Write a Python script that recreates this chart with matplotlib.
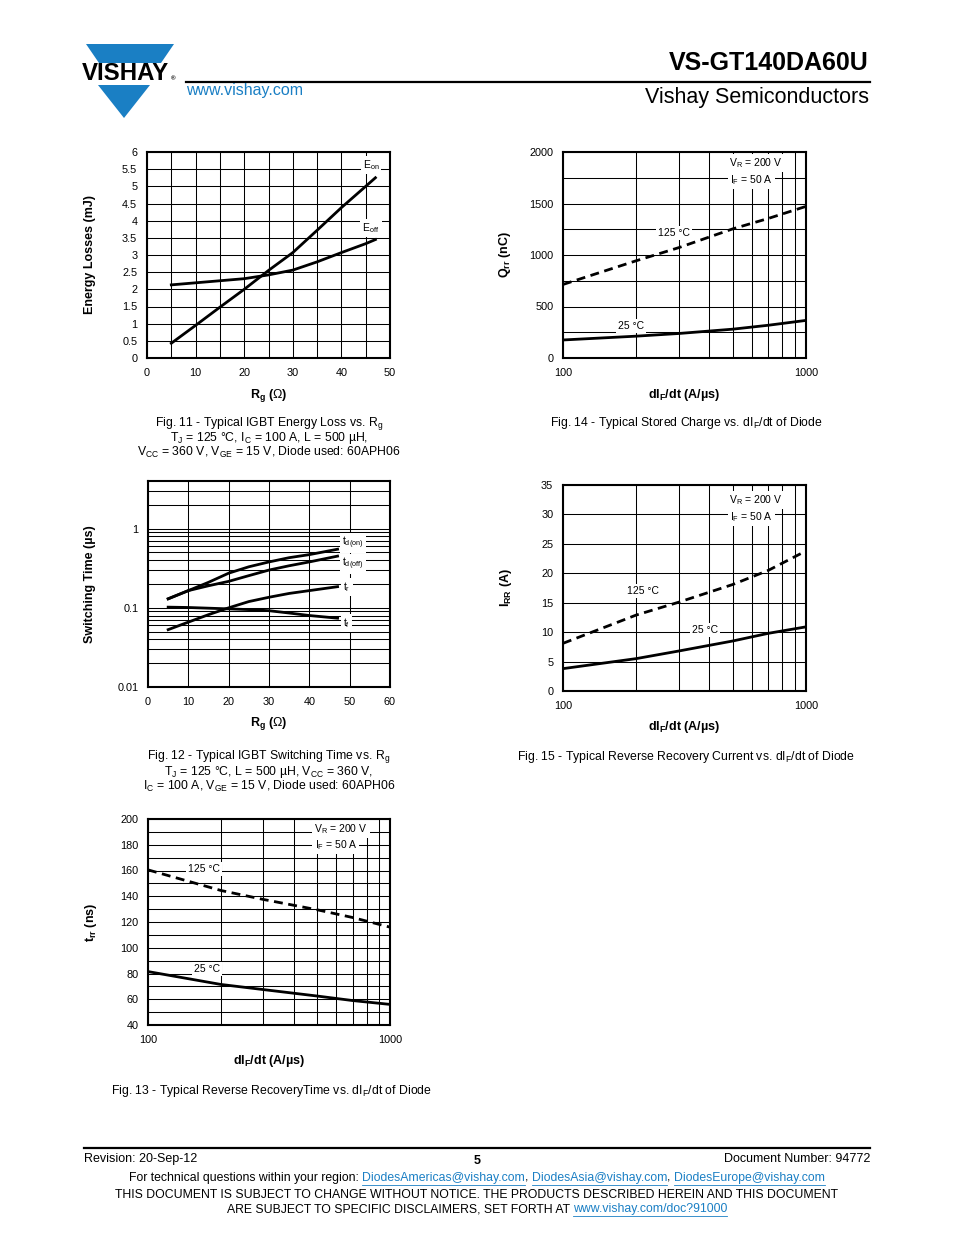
import matplotlib
matplotlib.use("Agg")
import matplotlib.pyplot as plt
from matplotlib.patches import Polygon
from matplotlib.lines import Line2D
from matplotlib.ticker import FixedLocator, NullFormatter

plt.rcParams['font.family'] = ['Liberation Sans', 'DejaVu Sans']
plt.rcParams['mathtext.fontset'] = 'custom'
plt.rcParams['mathtext.rm'] = 'Liberation Sans'
plt.rcParams['mathtext.it'] = 'Liberation Sans:italic'
plt.rcParams['mathtext.bf'] = 'Liberation Sans:bold'

W, H = 954, 1235
BLUE = '#1a7fc4'

# ---------------- data ----------------
# Fig 11 energy loss vs Rg
rg11 = [5, 10, 15, 20, 25, 30, 35, 40, 45, 47]
e_on = [0.43, 0.95, 1.48, 2.0, 2.55, 3.07, 3.72, 4.38, 5.0, 5.25]
e_off = [2.13, 2.19, 2.25, 2.31, 2.42, 2.56, 2.8, 3.07, 3.33, 3.45]

# Fig 12 switching time vs Rg
rg12 = [5, 10, 15, 20, 25, 30, 35, 40, 47]
t_don = [0.13, 0.165, 0.21, 0.274, 0.33, 0.38, 0.43, 0.47, 0.55]
t_doff = [0.13, 0.165, 0.19, 0.216, 0.255, 0.30, 0.34, 0.38, 0.45]
t_r = [0.053, 0.066, 0.082, 0.1, 0.12, 0.136, 0.152, 0.165, 0.185]
t_f = [0.102, 0.101, 0.099, 0.097, 0.095, 0.092, 0.086, 0.080, 0.074]

# diode charts (dIF/dt)
didt = [100, 200, 300, 500, 700, 1000]
qrr_125 = [714, 944, 1072, 1254, 1355, 1472]
qrr_25 = [175, 212, 238, 280, 318, 365]
irr_125 = [8.1, 12.9, 15.1, 18.1, 20.5, 23.8]
irr_25 = [3.8, 5.5, 6.8, 8.5, 9.8, 10.9]
trr_125 = [160.5, 144.5, 137.5, 129.5, 123.5, 116]
trr_25 = [81.5, 71.5, 67.5, 62.5, 59, 56]

fig = plt.figure(figsize=(W / 100, H / 100), dpi=100)


def fx(px):
    return px / W


def fy(py):
    return 1 - py / H


def add_ax(l, t, r, b):
    ax = fig.add_axes([fx(l), fy(b), fx(r) - fx(l), (b - t) / H])
    ax._px = (l, t, r, b)
    return ax


def style(ax):
    for s in ax.spines.values():
        s.set_linewidth(1.5)
        s.set_zorder(5)
    ax.tick_params(length=0, labelsize=7.8, pad=7)
    ax.tick_params(which='minor', length=0)
    ax.set_axisbelow(True)


def labels(ax, xl, yl, xl_py, yl_px):
    l, t, r, b = ax._px
    ax.set_xlabel(xl, fontsize=9, fontweight='bold')
    ax.set_ylabel(yl, fontsize=9, fontweight='bold')
    ax.xaxis.set_label_coords(0.5, (b - xl_py) / (b - t))
    ax.yaxis.set_label_coords((yl_px - l) / (r - l), 0.5)
    ax.xaxis.label.set_va('center')
    ax.yaxis.label.set_va('center')


def lab(ax, x, y, s, **kw):
    ax.text(x, y, s, fontsize=7.5, ha='center', va='center', zorder=4,
            bbox=dict(facecolor='white', edgecolor='none', pad=1.5), **kw)


def ftext(px, py, s, **kw):
    kw.setdefault('fontsize', 8.8)
    kw.setdefault('ha', 'center')
    kw.setdefault('va', 'center')
    fig.text(fx(px), fy(py), s, **kw)


def log_x(ax):
    ax.set_xscale('log')
    ax.set_xlim(100, 1000)
    ax.xaxis.set_major_locator(FixedLocator([100, 1000]))
    ax.xaxis.set_major_formatter(plt.FixedFormatter(['100', '1000']))
    ax.xaxis.set_minor_locator(FixedLocator(range(200, 1000, 100)))
    ax.xaxis.set_minor_formatter(NullFormatter())


LW = 2.0
DASH = (3.2, 2)
GL = dict(color='black', linewidth=0.75)
DIDT = r'dI$_{\mathbf{F}}$/dt (A/µs)'
RG = r'R$_{\mathbf{g}}$ ($\Omega$)'

# ---------------- Fig 11 ----------------
ax = add_ax(147, 152, 390, 358)
style(ax)
ax.plot(rg11, e_on, color='black', lw=LW, zorder=3)
ax.plot(rg11, e_off, color='black', lw=LW, zorder=3)
ax.set_xlim(0, 50)
ax.set_ylim(0, 6)
ax.set_xticks(range(0, 51, 10))
ax.xaxis.set_minor_locator(FixedLocator(range(5, 50, 10)))
ax.set_yticks([i * 0.5 for i in range(13)])
ax.set_yticklabels(['0', '0.5', '1', '1.5', '2', '2.5', '3', '3.5', '4', '4.5', '5', '5.5', '6'])
ax.grid(True, which='both', **GL)
lab(ax, 46.1, 5.62, r'E$_{\rm on}$')
lab(ax, 46.1, 3.79, r'E$_{\rm off}$')
labels(ax, RG, 'Energy Losses (mJ)', 396, 90)

# ---------------- Fig 14 ----------------
ax = add_ax(563, 152, 806, 358)
style(ax)
log_x(ax)
ax.plot(didt, qrr_125, color='black', lw=LW, dashes=DASH, zorder=3)
ax.plot(didt, qrr_25, color='black', lw=LW, zorder=3)
ax.set_ylim(0, 2000)
ax.set_yticks(range(0, 2001, 500))
ax.yaxis.set_minor_locator(FixedLocator(range(250, 2000, 500)))
ax.grid(True, which='both', **GL)
lab(ax, 623, 1893, r'V$_{\rm R}$ = 200 V')
lab(ax, 594, 1728, r'I$_{\rm F}$ = 50 A')
lab(ax, 286, 1214, '125 °C')
lab(ax, 190, 311, '25 °C')
labels(ax, DIDT, r'Q$_{\mathbf{rr}}$ (nC)', 395, 505)

# ---------------- Fig 12 ----------------
ax = add_ax(148, 481, 390, 687)
style(ax)
ax.set_yscale('log')
for ys in (t_don, t_doff, t_r, t_f):
    ax.plot(rg12, ys, color='black', lw=LW, zorder=3)
ax.set_xlim(0, 60)
ax.set_ylim(0.01, 4)
ax.set_xticks(range(0, 61, 10))
ax.yaxis.set_major_locator(FixedLocator([0.01, 0.1, 1]))
ax.yaxis.set_major_formatter(plt.FixedFormatter(['0.01', '0.1', '1']))
ax.yaxis.set_minor_locator(FixedLocator([k * 0.01 for k in range(2, 10)] +
                                        [k * 0.1 for k in range(2, 10)] + [2, 3]))
ax.yaxis.set_minor_formatter(NullFormatter())
ax.grid(True, which='both', **GL)
lab(ax, 50.8, 0.658, r't$_{\rm d(on)}$')
lab(ax, 50.8, 0.357, r't$_{\rm d(off)}$')
lab(ax, 49.3, 0.183, r't$_{\rm r}$')
lab(ax, 49.3, 0.064, r't$_{\rm f}$')
labels(ax, RG, 'Switching Time (µs)', 724, 90)

# ---------------- Fig 15 ----------------
ax = add_ax(563, 485, 806, 691)
style(ax)
log_x(ax)
ax.plot(didt, irr_125, color='black', lw=LW, dashes=DASH, zorder=3)
ax.plot(didt, irr_25, color='black', lw=LW, zorder=3)
ax.set_ylim(0, 35)
ax.set_yticks(range(0, 36, 5))
ax.grid(True, which='both', **GL)
lab(ax, 623, 32.45, r'V$_{\rm R}$ = 200 V')
lab(ax, 594, 29.56, r'I$_{\rm F}$ = 50 A')
lab(ax, 213, 17.0, '125 °C')
lab(ax, 384, 10.3, '25 °C')
labels(ax, DIDT, r'I$_{\mathbf{RR}}$ (A)', 727, 506)

# ---------------- Fig 13 ----------------
ax = add_ax(148, 819, 390, 1025)
style(ax)
log_x(ax)
ax.plot(didt, trr_125, color='black', lw=LW, dashes=DASH, zorder=3)
ax.plot(didt, trr_25, color='black', lw=LW, zorder=3)
ax.set_ylim(40, 200)
ax.set_yticks(range(40, 201, 20))
ax.yaxis.set_minor_locator(FixedLocator(range(50, 200, 20)))
ax.grid(True, which='both', **GL)
lab(ax, 627, 192.2, r'V$_{\rm R}$ = 200 V')
lab(ax, 598, 179.8, r'I$_{\rm F}$ = 50 A')
lab(ax, 170, 161.2, '125 °C')
lab(ax, 175, 83.5, '25 °C')
labels(ax, DIDT, r't$_{\mathbf{rr}}$ (ns)', 1061, 91)

# ---------------- captions ----------------
ftext(269, 423, r'Fig. 11 - Typical IGBT Energy Loss vs. R$_{\rm g}$')
ftext(269, 438, r'T$_{\rm J}$ = 125 °C, I$_{\rm C}$ = 100 A, L = 500 µH,')
ftext(269, 452, r'V$_{\rm CC}$ = 360 V, V$_{\rm GE}$ = 15 V, Diode used: 60APH06')
ftext(686, 423, r'Fig. 14 - Typical Stored Charge vs. dI$_{\rm F}$/dt of Diode')
ftext(269, 757, r'Fig. 12 - Typical IGBT Switching Time vs. R$_{\rm g}$')
ftext(269, 772, r'T$_{\rm J}$ = 125 °C, L = 500 µH, V$_{\rm CC}$ = 360 V,')
ftext(269, 786, r'I$_{\rm C}$ = 100 A, V$_{\rm GE}$ = 15 V, Diode used: 60APH06')
ftext(686, 757, r'Fig. 15 - Typical Reverse Recovery Current vs. dI$_{\rm F}$/dt of Diode')
ftext(271, 1091, r'Fig. 13 - Typical Reverse RecoveryTime vs. dI$_{\rm F}$/dt of Diode')

# ---------------- header ----------------
logo_top = Polygon([(fx(86), fy(44)), (fx(174), fy(44)), (fx(161), fy(63)), (fx(99), fy(63))],
                   closed=True, facecolor=BLUE, edgecolor='none', transform=fig.transFigure)
logo_bot = Polygon([(fx(98), fy(85)), (fx(150), fy(85)), (fx(124), fy(118))],
                   closed=True, facecolor=BLUE, edgecolor='none', transform=fig.transFigure)
fig.add_artist(logo_top)
fig.add_artist(logo_bot)
ftext(82, 74, 'VISHAY', fontsize=17.3, fontweight='bold', ha='left')
ftext(171, 79, '®', fontsize=4.5, fontweight='bold', ha='left')
fig.add_artist(Line2D([fx(186), fx(870)], [fy(82), fy(82)], color='black', lw=1.6,
                      transform=fig.transFigure))
ftext(869, 63, 'VS-GT140DA60U', fontsize=18, fontweight='bold', ha='right')
ftext(869, 98, 'Vishay Semiconductors', fontsize=15.5, ha='right')
ftext(186, 91, 'www.vishay.com', fontsize=11.5, ha='left', color=BLUE)

# ---------------- footer ----------------
fig.add_artist(Line2D([fx(84), fx(870)], [fy(1148), fy(1148)], color='black', lw=1.6,
                      transform=fig.transFigure))
ftext(84, 1159, 'Revision: 20-Sep-12', fontsize=9, ha='left')
ftext(477, 1161, '5', fontsize=9, fontweight='bold')
ftext(870, 1159, 'Document Number: 94772', fontsize=9, ha='right')

renderer = fig.canvas.get_renderer()


def seq_line(py, parts, cx, fs=8.8):
    texts = []
    for s, c in parts:
        t = fig.text(0, fy(py), s, fontsize=fs, color=c, ha='left', va='center')
        texts.append(t)
    widths = [t.get_window_extent(renderer).width for t in texts]
    total = sum(widths)
    x = cx - total / 2
    for t, w, (s, c) in zip(texts, widths, parts):
        t.set_x(fx(x))
        if c != 'black':
            fig.add_artist(Line2D([fx(x), fx(x + w)], [fy(py + 6.5), fy(py + 6.5)], color=c, lw=0.6,
                                  transform=fig.transFigure))
        x += w


seq_line(1178, [('For technical questions within your region: ', 'black'),
                ('DiodesAmericas@vishay.com', BLUE), (', ', 'black'),
                ('DiodesAsia@vishay.com', BLUE), (', ', 'black'),
                ('DiodesEurope@vishay.com', BLUE)], 477)
ftext(477, 1195, 'THIS DOCUMENT IS SUBJECT TO CHANGE WITHOUT NOTICE. THE PRODUCTS DESCRIBED HEREIN AND THIS DOCUMENT',
      fontsize=8.8)
seq_line(1209, [('ARE SUBJECT TO SPECIFIC DISCLAIMERS, SET FORTH AT ', 'black'),
                ('www.vishay.com/doc?91000', BLUE)], 477)

fig.savefig('out.png', dpi=100)
